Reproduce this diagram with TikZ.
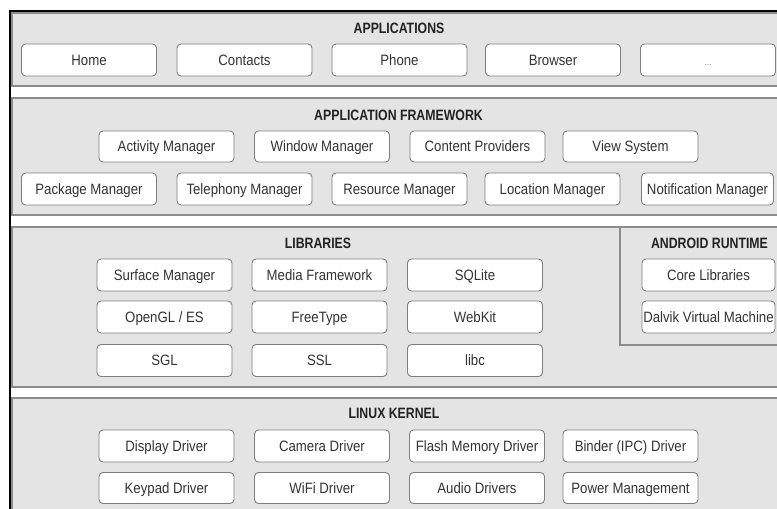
\documentclass[tikz,border=0pt]{standalone}
\usepackage{fontspec}
\setmainfont[FakeStretch=0.88]{Liberation Sans}
\newfontfamily\titlefont[FakeStretch=0.82]{Liberation Sans}
\definecolor{bandfill}{HTML}{E4E4E4}
\definecolor{bandline}{HTML}{8C8C8C}
\definecolor{boxline}{HTML}{7E7E7E}
\definecolor{txt}{HTML}{333333}
\definecolor{ttl}{HTML}{222222}
\tikzset{
  comp/.style={draw=boxline, line width=0.9pt, fill=white, rounded corners=4pt,
    minimum width=135pt, minimum height=32pt, inner sep=0pt,
    text height=10.8pt, text depth=0pt,
    text=txt, font=\fontsize{15}{17}\selectfont},
  title/.style={text=ttl, inner sep=0pt, text height=10.8pt, text depth=0pt,
    font=\titlefont\fontsize{15}{17}\selectfont\bfseries},
  band/.style={draw=bandline, line width=1.2pt, fill=bandfill},
}
\begin{document}
\begin{tikzpicture}[x=1pt,y=-1pt]
\useasboundingbox (0,0) rectangle (777,509);
\fill[white] (0,0) rectangle (777,509);
% bands
\draw[band] (12,13) rectangle (800,86);
\draw[band] (12,98) rectangle (800,215);
\draw[band] (12,227) rectangle (800,387);
\draw[band] (620,227) rectangle (800,345);
\draw[band] (12,398) rectangle (800,530);
% outer black frame
\draw[black, line width=2pt] (10,530) -- (10,11) -- (800,11);

% APPLICATIONS
\node[title] (tapp) at (399,28) {APPLICATIONS};
\node[comp] (home) at (89,60) {Home};
\node[comp] (contacts) at (244.5,60) {Contacts};
\node[comp] (phone) at (399.5,60) {Phone};
\node[comp] (browser) at (553,60) {Browser};
\node[comp, text=gray] (more) at (708,60) {\fontsize{10}{12}\selectfont ...};

% APPLICATION FRAMEWORK
\node[title] (tfw) at (398.5,115) {APPLICATION FRAMEWORK};
\node[comp, minimum height=31pt] (activity) at (166.5,146.5) {Activity Manager};
\node[comp, minimum height=31pt] (window) at (322,146.5) {Window Manager};
\node[comp, minimum height=31pt] (content) at (477.5,146.5) {Content Providers};
\node[comp, minimum height=31pt] (view) at (630.5,146.5) {View System};
\node[comp] (package) at (89,189) {Package Manager};
\node[comp] (telephony) at (244.5,189) {Telephony Manager};
\node[comp] (resource) at (399.5,189) {Resource Manager};
\node[comp] (location) at (552.5,189) {Location Manager};
\node[comp, minimum width=132pt] (notification) at (707.5,189) {Notification Manager};

% LIBRARIES
\node[title] (tlib) at (318,243) {LIBRARIES};
\node[comp] (surface) at (164.5,275) {Surface Manager};
\node[comp] (media) at (319.5,275) {Media Framework};
\node[comp] (sqlite) at (475,275) {SQLite};
\node[comp] (opengl) at (164.5,317) {OpenGL / ES};
\node[comp] (freetype) at (319.5,317) {FreeType};
\node[comp] (webkit) at (475,317) {WebKit};
\node[comp] (sgl) at (164.5,360.5) {SGL};
\node[comp] (ssl) at (319.5,360.5) {SSL};
\node[comp] (libc) at (475,360.5) {libc};

% ANDROID RUNTIME
\node[title] (trt) at (709.5,243) {ANDROID RUNTIME};
\node[comp, minimum width=133pt] (core) at (708.5,275) {Core Libraries};
\node[comp, minimum width=133pt] (dalvik) at (708.5,317) {Dalvik Virtual Machine};

% LINUX KERNEL
\node[title] (tker) at (394,413) {LINUX KERNEL};
\node[comp] (display) at (166.5,446) {Display Driver};
\node[comp] (camera) at (322,446) {Camera Driver};
\node[comp] (flash) at (477,446) {Flash Memory Driver};
\node[comp] (binder) at (630.5,446) {Binder (IPC) Driver};
\node[comp, minimum height=31pt] (keypad) at (166.5,488) {Keypad Driver};
\node[comp, minimum height=31pt] (wifi) at (322,488) {WiFi Driver};
\node[comp, minimum height=31pt] (audio) at (477,488) {Audio Drivers};
\node[comp, minimum height=31pt] (power) at (630.5,488) {Power Management};
\end{tikzpicture}
\end{document}
